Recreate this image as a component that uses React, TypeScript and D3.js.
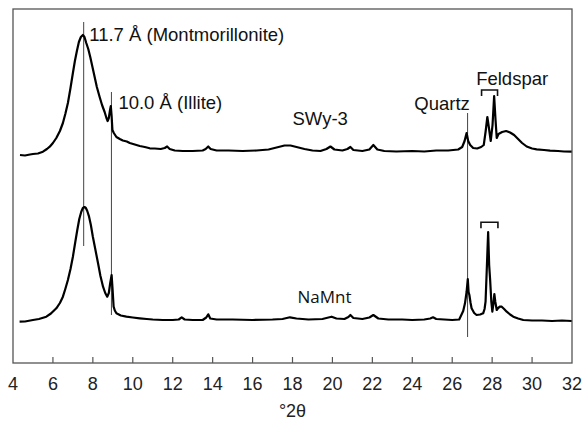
import React from "react";
import * as d3 from "d3";

// °2θ positions and relative intensities
const swy3Theta = [4.35,4.6,4.85,5.0,5.25,5.5,5.7,5.84,6.0,6.17,6.35,6.5,6.62,6.75,6.88,7.0,7.1,7.2,7.3,7.4,7.5,7.58,7.67,7.77,7.87,7.98,8.09,8.2,8.34,8.46,8.59,8.68,8.74,8.8,8.86,8.9,8.94,8.98,9.05,9.18,9.35,9.5,9.7,9.85,10.1,10.35,10.6,10.85,11.1,11.4,11.6,11.72,11.85,12.1,12.5,13.0,13.5,13.65,13.78,13.9,14.2,14.8,15.5,16.2,16.8,17.2,17.6,17.9,18.2,18.6,19.0,19.4,19.7,19.9,20.1,20.5,20.75,20.9,21.05,21.5,21.85,22.05,22.25,22.6,23.2,24.0,24.6,25.2,25.8,26.3,26.5,26.62,26.72,26.8,26.9,27.05,27.25,27.45,27.58,27.67,27.76,27.84,27.93,28.02,28.1,28.17,28.23,28.32,28.5,28.7,28.9,29.1,29.3,29.5,29.73,30.0,30.23,30.6,30.9,31.3,31.6,31.98];
const swy3Intensity = [208,207.5,208.5,209,209.5,211.3,214,216.3,220,225,232,240,249,260,275,290,302,312,321,326,328,326,320,314,306,296,286,276,266,258,251,245,242,245,253,257,247,233,230,226,224,222.5,221.5,220,218.5,217,216,214.7,214.5,214,215,216.5,214,212.5,212,212,212.5,214,216.5,214,212.5,212.5,212,212.5,213.5,215.5,217.5,217.5,216,214,212.5,212,214,216.5,213.5,212.5,214,216,213,212,213.5,218,213.5,212,211.5,212,211.5,212.5,212.5,213.5,216,222,230,222,218,215,214.5,216,218,231,246,235,222,238,267,243,225,229,231,232,230.5,228,224,220,216.5,214.5,213.7,213,212.3,212,211.5,211.3];

const naMntTheta = [4.33,4.6,5.0,5.3,5.67,5.9,6.17,6.35,6.5,6.62,6.75,6.88,7.0,7.12,7.22,7.32,7.42,7.5,7.58,7.65,7.72,7.81,7.9,8.0,8.13,8.26,8.38,8.51,8.62,8.72,8.8,8.87,8.94,8.99,9.04,9.1,9.18,9.4,9.68,10.0,10.35,10.7,11.0,11.5,12.0,12.3,12.45,12.6,13.0,13.5,13.68,13.78,13.88,14.2,15.0,16.0,17.0,17.5,17.87,18.2,18.8,19.5,19.8,19.96,20.2,20.6,20.8,20.9,21.05,21.5,21.85,22.05,22.3,22.8,23.5,24.0,24.6,24.9,25.04,25.2,25.6,26.0,26.35,26.55,26.64,26.72,26.78,26.82,26.86,26.92,26.97,27.1,27.22,27.4,27.55,27.62,27.67,27.73,27.8,27.85,27.9,27.96,28.01,28.06,28.11,28.16,28.23,28.3,28.4,28.48,28.6,28.73,28.9,29.06,29.3,29.56,30.0,30.5,31.0,31.5,31.98];
const naMntIntensity = [41.3,41.5,43,44,46.3,49.5,54.7,60,66.3,74,83,94,106.3,121,133,144,151.3,155,156,155,152,146.3,138,126.3,113,99.7,87,76.3,70,66.3,70,80,88,73,56.3,52.5,49.7,47.5,46.3,45.5,44.7,44,43.5,43,43,43.5,45.7,43.5,43,43,45.5,48.7,44.5,43.5,43.5,43,43.5,44,45.7,44.5,43.5,44,45.5,46.3,44.5,44,46,48,45,44,45.5,48,44.5,43.5,43.5,43,43.5,44.5,45.7,44,43.5,43,43.5,52,59.7,71,84,71,68,60,54.7,50,48,48.5,49.7,54,61.3,93,131,98,83,61,51.3,59,69,61,53,55,56.5,56.3,54,51.3,48.5,46.3,44.5,43,42.5,42.5,42,42.5,42];

// axis ticks
const xTicks = [4,6,8,10,12,14,16,18,20,22,24,26,28,30,32];

// reference lines: position (°2θ), intensity bottom, intensity top
const markerTheta = [7.54, 8.93, 26.77];
const markerLow = [117, 48, 26];
const markerHigh = [341, 271, 250];

// feldspar brackets: start, end, intensity
const bracketStart = [27.47, 27.44];
const bracketEnd = [28.27, 28.29];
const bracketLevel = [273, 140.7];

// annotation labels
const labelText = ["11.7 Å (Montmorillonite)", "10.0 Å (Illite)", "SWy-3", "Quartz", "Feldspar", "NaMnt"];
const labelTheta = [7.82, 9.28, 18.0, 24.1, 27.2, 18.25];
const labelIntensity = [322, 254, 238, 253, 278, 60];

const W = 584, H = 422;
const M = { left: 13, right: 12, top: 9, bottom: 59 };
const FONT = "'Liberation Sans', Arial, Helvetica, sans-serif";

export default function App() {
  const x = d3.scaleLinear().domain([4, 32]).range([M.left, W - M.right]);
  const y = d3.scaleLinear().domain([0, 354]).range([H - M.bottom, M.top]);
  const line = d3.line<[number, number]>().x(d => x(d[0])).y(d => y(d[1]));
  const swy: [number, number][] = swy3Theta.map((t, i) => [t, swy3Intensity[i]]);
  const na: [number, number][] = naMntTheta.map((t, i) => [t, naMntIntensity[i]]);
  const x0 = x(4), x1 = x(32), yTop = y(354), yBot = y(0);
  return (
    <svg width={W} height={H} style={{ position: "absolute", left: 0, top: 0, background: "#fff" }}>
      <rect x={0} y={0} width={W} height={H} fill="#fff" />
      {/* frame */}
      <rect x={x0} y={yTop} width={x1 - x0} height={yBot - yTop} fill="none" stroke="#555" strokeWidth={1.3} />
      {xTicks.map(t => (
        <g key={t}>
          {t > 4 && t < 32 && <line x1={x(t)} x2={x(t)} y1={yBot} y2={yBot - 6} stroke="#555" strokeWidth={1.2} />}
          <text x={x(t)} y={yBot + 27} textAnchor="middle" fontFamily={FONT} fontSize={18} fill="#222">{t}</text>
        </g>
      ))}
      <text x={(x0 + x1) / 2} y={H - 5} textAnchor="middle" fontFamily={FONT} fontSize={18} fill="#222">°2θ</text>
      {/* marker lines */}
      {markerTheta.map((t, i) => (
        <line key={i} x1={x(t)} x2={x(t)} y1={y(markerLow[i])} y2={y(markerHigh[i])} stroke="#444" strokeWidth={1} />
      ))}
      {/* data */}
      <path d={line(swy) || ""} fill="none" stroke="#000" strokeWidth={2.2} strokeLinejoin="round" />
      <path d={line(na) || ""} fill="none" stroke="#000" strokeWidth={2.2} strokeLinejoin="round" />
      {/* brackets */}
      {bracketStart.map((s, i) => (
        <path key={i} d={`M${x(s)},${y(bracketLevel[i]) + 6}V${y(bracketLevel[i])}H${x(bracketEnd[i])}V${y(bracketLevel[i]) + 6}`} fill="none" stroke="#111" strokeWidth={1.6} />
      ))}
      {labelText.map((s, i) => (
        <text key={i} x={x(labelTheta[i])} y={y(labelIntensity[i])} fontFamily={i === 5 ? "'Open Sans', sans-serif" : FONT} fontSize={i === 5 ? 17 : 18.5} fill="#111">{s}</text>
      ))}
    </svg>
  );
}
